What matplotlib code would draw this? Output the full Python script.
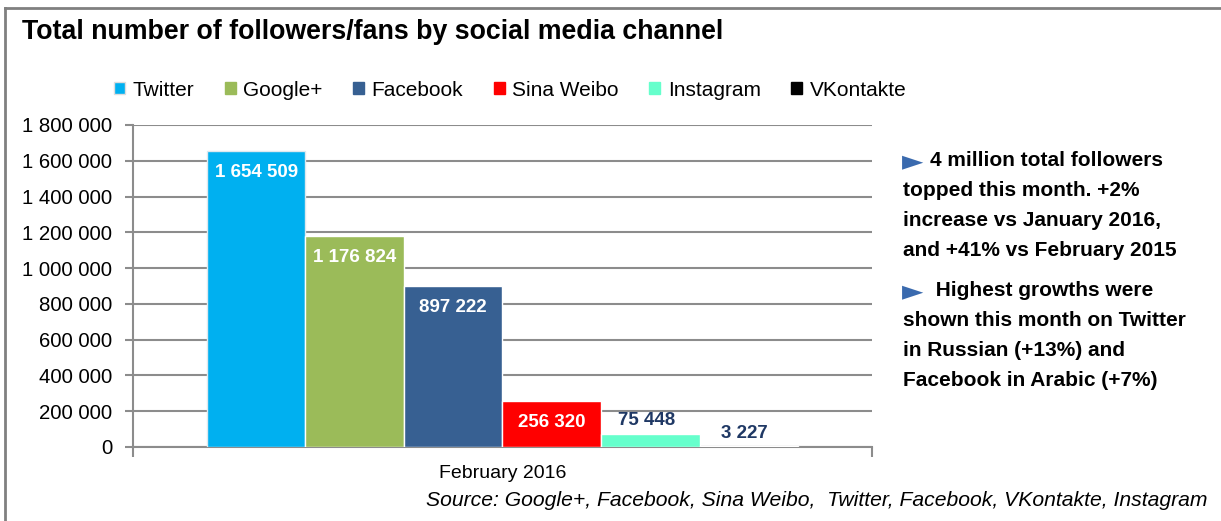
import matplotlib.pyplot as plt
from matplotlib.patches import Patch
from matplotlib.ticker import FuncFormatter, MultipleLocator

CHANNELS = ["Twitter", "Google+", "Facebook", "Sina Weibo", "Instagram", "VKontakte"]
FOLLOWERS = [1654509, 1176824, 897222, 256320, 75448, 3227]
COLORS = ["#00B0F0", "#9BBB59", "#376092", "#FF0000", "#66FFCC", "#000000"]
# data label placement: inside top (white) or above bar (navy)
LABEL_INSIDE = [True, True, True, True, False, False]
CATEGORY = "February 2016"
NOTE_1 = ["4 million total followers", "topped this month. +2%",
          "increase vs January 2016,", "and +41% vs February 2015"]
NOTE_2 = [" Highest growths were", "shown this month on Twitter",
          "in Russian (+13%) and", "Facebook in Arabic (+7%)"]
SOURCE = "Source: Google+, Facebook, Sina Weibo,  Twitter, Facebook, VKontakte, Instagram"

GRID = "#8C8C8C"
NAVY = "#1F3864"
ARROW = "#3A6AAE"
W, H = 1221, 521

plt.rcParams["font.family"] = ["Liberation Sans", "DejaVu Sans"]

fig = plt.figure(figsize=(W / 100, H / 100), dpi=100)
ax = fig.add_axes([133 / W, 1 - 447 / H, (872 - 133) / W, (447 - 125) / H])

n = len(FOLLOWERS)
xs = [i - (n - 1) / 2 for i in range(n)]
bars = ax.bar(xs, FOLLOWERS, width=1.0, color=COLORS, edgecolor="white", lw=1, zorder=3)
bars[0].set_edgecolor("#DDE8EE")

for x, v, inside in zip(xs, FOLLOWERS, LABEL_INSIDE):
    txt = f"{v:,}".replace(",", " ")
    if inside:
        ax.annotate(txt, (x, v), xytext=(0, -9), textcoords="offset points",
                    ha="center", va="top", color="white", fontsize=13.5,
                    fontweight="bold", zorder=4)
    else:
        ax.annotate(txt, (x, v), xytext=(-3, 3), textcoords="offset points",
                    ha="center", va="bottom", color=NAVY, fontsize=13.5,
                    fontweight="bold", zorder=4)

ax.set_xlim(-3.75, 3.75)
ax.set_ylim(0, 1800000)
ax.yaxis.set_major_locator(MultipleLocator(200000))
ax.yaxis.set_major_formatter(FuncFormatter(lambda v, p: f"{int(v):,}".replace(",", " ")))
ax.grid(axis="y", color=GRID, lw=1.5, zorder=0)
ax.set_xticks([-3.75, 3.75])
ax.set_xticklabels(["", ""])
ax.tick_params(axis="x", length=7, color=GRID, width=1.5)
ax.tick_params(axis="y", length=6, color=GRID, width=1.5, labelsize=14.7, pad=9)
for s in ["top", "right"]:
    ax.spines[s].set_visible(False)
for s in ["left", "bottom"]:
    ax.spines[s].set_color(GRID)
    ax.spines[s].set_linewidth(1.5)
ax.text(0, -0.055, CATEGORY, transform=ax.get_xaxis_transform(), ha="center",
        va="top", fontsize=14)

handles = [Patch(facecolor=c, edgecolor="#DDDDDD" if i == 0 else c)
           for i, c in enumerate(COLORS)]
fig.legend(handles, CHANNELS, loc="center left", bbox_to_anchor=(114 / W, 1 - 90 / H),
           ncol=6, frameon=False, fontsize=15, handlelength=0.55, handleheight=0.55,
           handletextpad=0.35, columnspacing=1.45, borderaxespad=0, borderpad=0)

fig.text(22 / W, 1 - 32 / H, "Total number of followers/fans by social media channel",
         fontsize=19.3, fontweight="black", va="center", ha="left")

# annotation bullets, drawn line by line
for top, lines, indent in [(161, NOTE_1, 930), (291, NOTE_2, 930)]:
    fig.text(902 / W, 1 - top / H, "\u25BA", color=ARROW, fontsize=20,
             family=["DejaVu Sans"], va="center", ha="left")
    for k, line in enumerate(lines):
        x0 = indent if k == 0 else 903
        fig.text(x0 / W, 1 - (top + 30 * k) / H, line, fontsize=15,
                 fontweight="bold", va="center", ha="left")

fig.text(1208 / W, 1 - 500 / H, SOURCE, fontsize=15.2, style="italic",
         va="center", ha="right")

# outer frame (top + left edges visible)
fig.add_artist(plt.Line2D([5 / W, 1], [1 - 8 / H, 1 - 8 / H], color="#808080", lw=2))
fig.add_artist(plt.Line2D([5 / W, 5 / W], [0, 1 - 8 / H], color="#808080", lw=2))

fig.savefig("out.png", dpi=100)
